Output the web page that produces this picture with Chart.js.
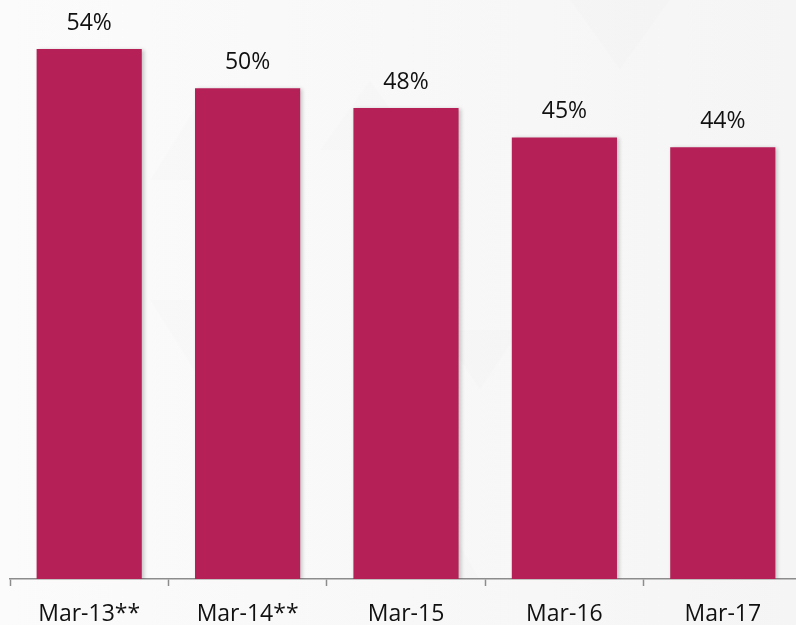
<!DOCTYPE html>
<html>
<head>
<meta charset="utf-8">
<script src="https://cdn.jsdelivr.net/npm/chart.js@4"></script>
<style>
  html, body { margin: 0; padding: 0; overflow: hidden; background: #f7f7f7; }
  #wrap { position: relative; width: 804px; height: 625px; }
</style>
</head>
<body>
<div id="wrap"><canvas id="shareChart"></canvas></div>
<script>
const periods = ["Mar-13**", "Mar-14**", "Mar-15", "Mar-16", "Mar-17"];
const shares = [54, 50, 48, 45, 44];

const barColor = "#b52157";
const labelFont = { family: "'Open Sans', sans-serif", size: 23 };

// faint triangle pattern behind the plot, lighter on the left
const backdrop = {
  id: "backdrop",
  beforeDraw(chart) {
    const { ctx, width, height } = chart;
    ctx.save();
    const g = ctx.createLinearGradient(0, 0, width, 0);
    g.addColorStop(0, "#fbfbfb");
    g.addColorStop(0.5, "#f8f8f8");
    g.addColorStop(1, "#f5f5f5");
    ctx.fillStyle = g;
    ctx.fillRect(0, 0, width, height);
    ctx.fillStyle = "rgba(0,0,0,0.008)";
    const tris = [
      [[150, 180], [200, 100], [250, 180]],
      [[150, 300], [200, 380], [250, 300]],
      [[320, 150], [370, 80], [420, 150]],
      [[440, 330], [480, 390], [520, 330]],
      [[570, 0], [620, 70], [670, 0]],
      [[400, 580], [440, 510], [480, 580]]
    ];
    tris.forEach(t => {
      ctx.beginPath();
      ctx.moveTo(t[0][0], t[0][1]);
      ctx.lineTo(t[1][0], t[1][1]);
      ctx.lineTo(t[2][0], t[2][1]);
      ctx.closePath();
      ctx.fill();
    });
    ctx.restore();
  }
};

// soft shadow under the bars
const barShadow = {
  id: "barShadow",
  beforeDatasetsDraw(chart) {
    const ctx = chart.ctx;
    ctx.save();
    ctx.shadowColor = "rgba(0,0,0,0.22)";
    ctx.shadowBlur = 4;
    ctx.shadowOffsetX = 2;
    ctx.shadowOffsetY = 1;
  },
  afterDatasetsDraw(chart) {
    chart.ctx.restore();
  }
};

// percentage above each bar
const valueLabels = {
  id: "valueLabels",
  afterDatasetsDraw(chart) {
    const ctx = chart.ctx;
    const meta = chart.getDatasetMeta(0);
    ctx.save();
    ctx.font = `${labelFont.size}px ${labelFont.family}`;
    ctx.fillStyle = "#111";
    ctx.textAlign = "center";
    ctx.textBaseline = "alphabetic";
    meta.data.forEach((bar, i) => {
      ctx.fillText(shares[i] + "%", bar.x, bar.y - 19);
    });
    ctx.restore();
  }
};

new Chart(document.getElementById("shareChart"), {
  type: "bar",
  data: {
    labels: periods,
    datasets: [{
      data: shares,
      backgroundColor: barColor,
      borderWidth: 0,
      barPercentage: 0.664,
      categoryPercentage: 1
    }]
  },
  options: {
    responsive: true,
    maintainAspectRatio: false,
    animation: false,
    layout: { padding: { left: 10, right: 2, top: 0, bottom: 0 } },
    plugins: {
      legend: { display: false },
      tooltip: { enabled: false }
    },
    scales: {
      x: {
        grid: {
          display: true,
          offset: true,
          drawOnChartArea: false,
          drawTicks: true,
          tickLength: 7,
          tickColor: "#8c8c8c",
          tickWidth: 1.5
        },
        border: { display: true, color: "#8c8c8c", width: 1.5 },
        ticks: {
          color: "#111",
          font: labelFont,
          padding: 15,
          maxRotation: 0,
          autoSkip: false
        },
        afterFit(scale) { scale.height = 46; }
      },
      y: {
        display: false,
        min: 0,
        max: 59
      }
    }
  },
  plugins: [backdrop, barShadow, valueLabels]
});
</script>
</body>
</html>
